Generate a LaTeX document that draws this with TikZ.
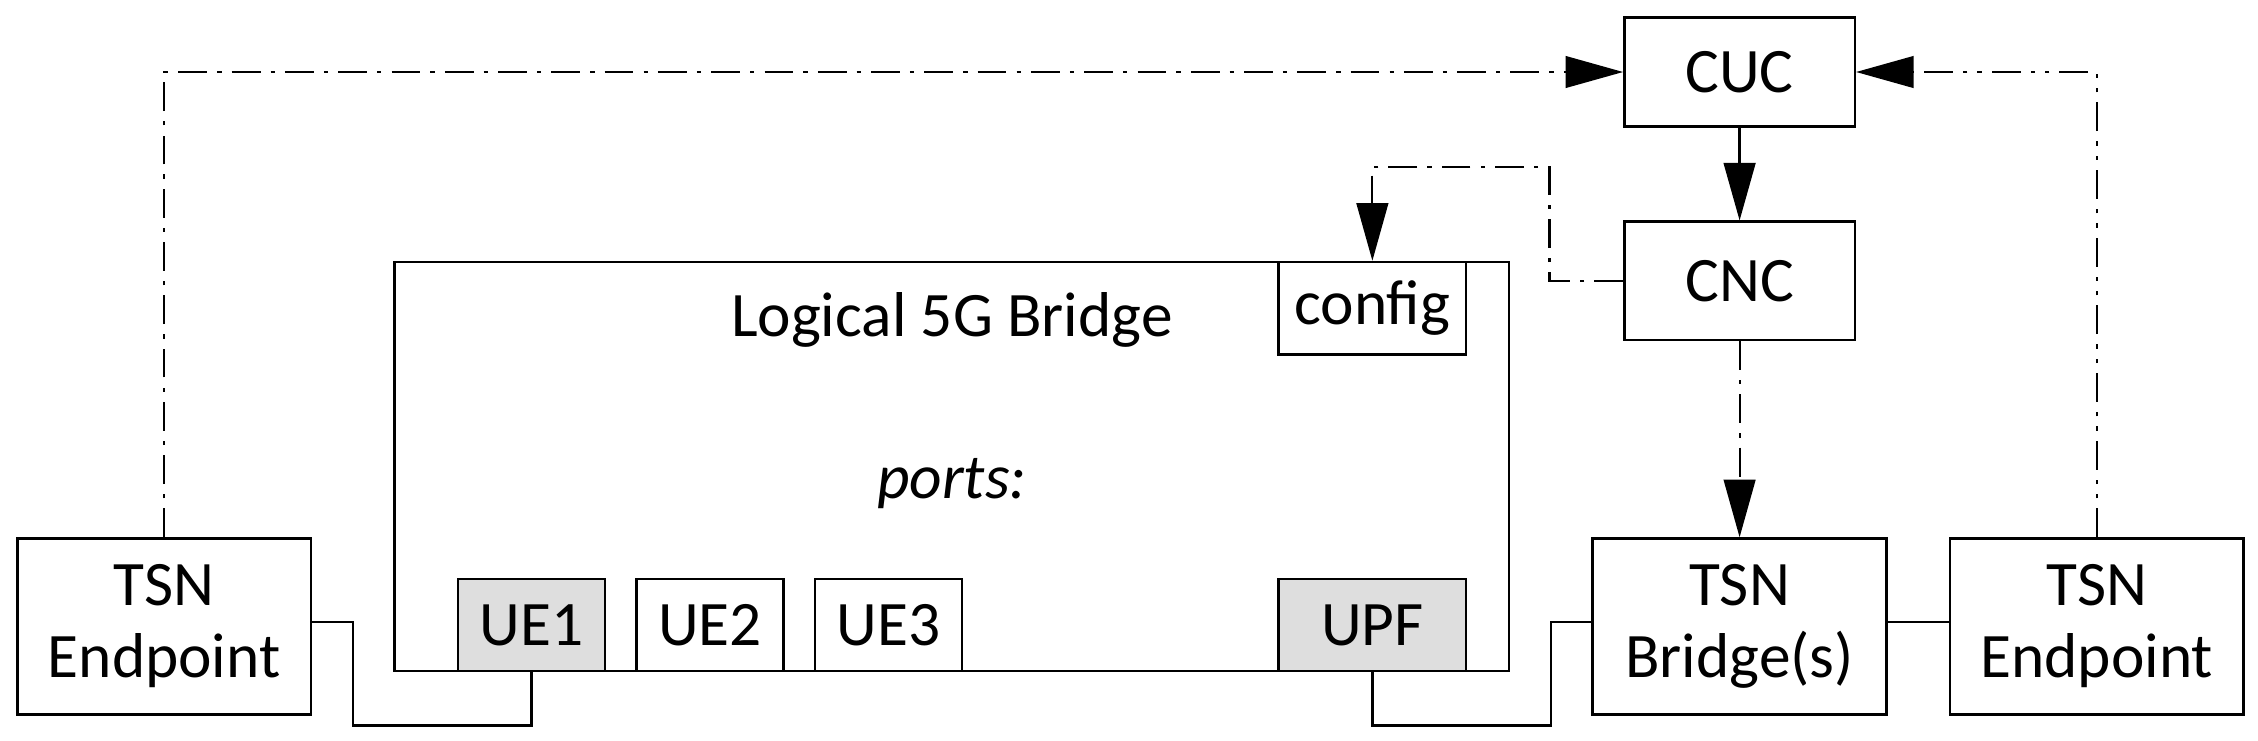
\documentclass[tikz,border=0pt]{standalone}
\usepackage{fontspec}
\setmainfont{Carlito}
\usetikzlibrary{arrows.meta}
\begin{document}
\begin{tikzpicture}[x=1pt,y=-1pt,line width=1.8pt,
 box/.style={draw,fill=white,inner sep=0pt,align=center,font=\fontsize{44}{50}\selectfont},
 gbox/.style={box,fill=black!13},
 dd/.style={dash pattern=on 20pt off 7pt on 3pt off 7pt,line width=1.5pt},
 ddd/.style={dash pattern=on 20pt off 7pt on 3pt off 7pt on 3pt off 7pt,line width=1.5pt},
 arr/.style={-{Triangle[length=40pt,width=22pt]}}]
\useasboundingbox (0,0) rectangle (1568,514);
\node[box,minimum width=204pt,minimum height=122pt] (tl) at (114,435) {TSN\\Endpoint};
\node[draw,minimum width=774pt,minimum height=284pt] (lb) at (661,324) {};
\node[font=\fontsize{44}{50}\selectfont] (lbt) at (661,222) {Logical 5G Bridge};
\node[font=\fontsize{44}{50}\selectfont\itshape] (pt) at (661,336) {ports:};
\node[box,minimum width=130pt,minimum height=64pt] (cfg) at (953,214) {config};
\node[gbox,minimum width=102pt,minimum height=64pt] (ue1) at (369,434) {UE1};
\node[box,minimum width=102pt,minimum height=64pt] (ue2) at (493,434) {UE2};
\node[box,minimum width=102pt,minimum height=64pt] (ue3) at (617,434) {UE3};
\node[gbox,minimum width=130pt,minimum height=64pt] (upf) at (953,434) {UPF};
\node[box,minimum width=160pt,minimum height=76pt] (cuc) at (1208,50) {CUC};
\node[box,minimum width=160pt,minimum height=82pt] (cnc) at (1208,195) {CNC};
\node[box,minimum width=204pt,minimum height=122pt] (tb) at (1208,435) {TSN\\Bridge(s)};
\node[box,minimum width=204pt,minimum height=122pt] (tr) at (1456,435) {TSN\\Endpoint};
\draw[dd,arr] (tl.north) |- (cuc.west);
\draw[ddd,arr] (tr.north) |- (cuc.east);
\draw[arr] (cuc.south) -- (cnc.north);
\draw[dd,arr] (cnc.west) -| (1076,116) -| (cfg.north);
\draw[dd,arr] (cnc.south) -- (tb.north);
\draw (tl.east |- 0,432) -- (245,432) |- (369,504) -- (ue1.south);
\draw (upf.south) -- (953,504) -| (1077,432) -- (tb.west |- 0,432);
\draw (tb.east |- 0,432) -- (tr.west |- 0,432);
\end{tikzpicture}
\end{document}
